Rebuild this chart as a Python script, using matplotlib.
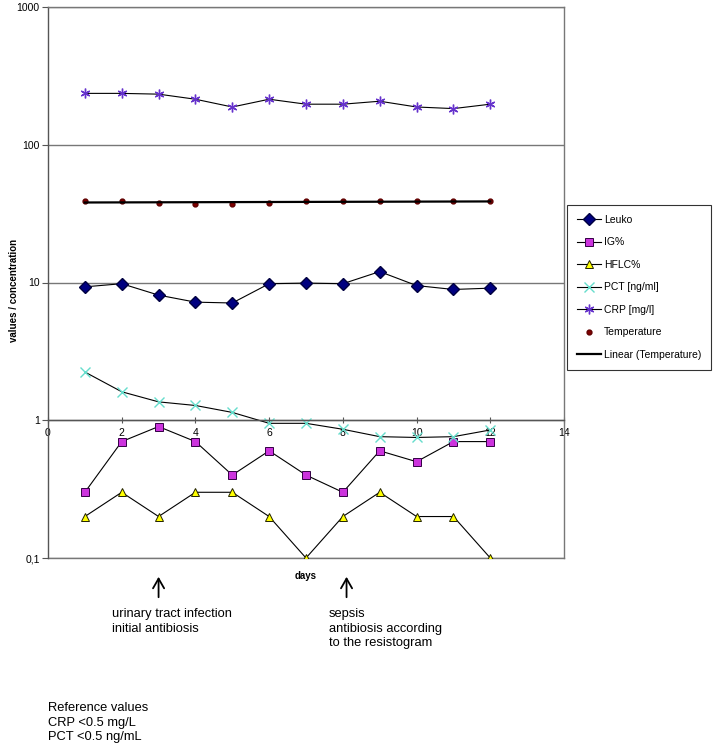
"""
Inflammation markers over the course of hospital stay (log scale).
"""

import numpy as np
import matplotlib
matplotlib.use("Agg")
import matplotlib.pyplot as plt
from matplotlib.patches import FancyArrowPatch
from matplotlib.ticker import FixedLocator, FixedFormatter, NullLocator

plt.rcParams["font.family"] = ["Liberation Sans", "DejaVu Sans"]

# ================================================================
# DATA
# ================================================================

days = [1, 2, 3, 4, 5, 6, 7, 8, 9, 10, 11, 12]
leuko = [9.3, 9.8, 8.1, 7.2, 7.1, 9.8, 9.9, 9.8, 12.0, 9.5, 8.9, 9.1]
ig_pct = [0.3, 0.7, 0.9, 0.7, 0.4, 0.6, 0.4, 0.3, 0.6, 0.5, 0.7, 0.7]
hflc_pct = [0.2, 0.3, 0.2, 0.3, 0.3, 0.2, 0.1, 0.2, 0.3, 0.2, 0.2, 0.1]
pct = [2.24, 1.61, 1.36, 1.28, 1.14, 0.95, 0.95, 0.86, 0.76, 0.75, 0.76, 0.85]
crp = [236, 236, 233, 214, 188, 214, 197, 197, 207, 188, 183, 197]
temperature = [39.2, 38.8, 37.8, 37.2, 37.2, 37.8, 38.8, 39.2, 38.8, 38.8, 38.8, 38.8]

y_ticks = [0.1, 1, 10, 100, 1000]
y_tick_labels = ["0,1", "1", "10", "100", "1000"]
x_ticks = [0, 2, 4, 6, 8, 10, 12, 14]

events = [
    (3, "urinary tract infection\ninitial antibiosis"),
    (8.1, "sepsis\nantibiosis according\nto the resistogram"),
]
reference_note = "Reference values\nCRP <0.5 mg/L\nPCT <0.5 ng/mL"

# ================================================================
# PLOT
# ================================================================

W, H = 717, 750
fig = plt.figure(figsize=(W / 100, H / 100), dpi=100)
ax = fig.add_axes([48 / W, 1 - 558 / H, (564 - 48) / W, (558 - 7) / H])

ax.set_yscale("log")
ax.set_ylim(0.1, 1000)
ax.set_xlim(0, 14)

line_kw = dict(color="black", linewidth=0.8)
ax.plot(days, leuko, marker="D", markersize=6, markerfacecolor="#000080",
        markeredgecolor="#000040", label="Leuko", **line_kw)
ax.plot(days, ig_pct, marker="s", markersize=5.5, markerfacecolor="#CC33DD",
        markeredgecolor="#330044", markeredgewidth=0.7, label="IG%", **line_kw)
ax.plot(days, hflc_pct, marker="^", markersize=6, markerfacecolor="#FFFF00",
        markeredgecolor="#222200", markeredgewidth=0.7, label="HFLC%", **line_kw)
ax.plot(days, pct, marker="x", markersize=7, markeredgecolor="#66DDCC",
        markeredgewidth=1.0, label="PCT [ng/ml]", **line_kw)
ax.plot(days, crp, marker=(6, 2, 0), markersize=7, markeredgecolor="#6633CC",
        markeredgewidth=1.0, label="CRP [mg/l]", **line_kw)
ax.plot(days, temperature, linestyle="none", marker="o", markersize=3.5,
        markerfacecolor="#800000", markeredgecolor="#600000",
        label="Temperature")

# linear trendline of the temperature series
coef = np.polyfit(days, temperature, 1)
ax.plot(days, np.polyval(coef, days), color="black", linewidth=1.6,
        label="Linear (Temperature)")

# axes styling: box, gridlines at decades, x axis crossing at y=1
ax.yaxis.set_major_locator(FixedLocator(y_ticks))
ax.yaxis.set_major_formatter(FixedFormatter(y_tick_labels))
ax.yaxis.set_minor_locator(NullLocator())
ax.set_xticks(x_ticks)
ax.set_xticklabels([str(t) for t in x_ticks])
ax.yaxis.grid(True, color="#777777", linewidth=1.0)
ax.axhline(0.1, color="#777777", linewidth=1.0, clip_on=False, zorder=0.5)
ax.set_axisbelow(True)

ax.spines["bottom"].set_position(("data", 1))
ax.spines["bottom"].set_color("#555555")
ax.spines["left"].set_color("#555555")
ax.spines["top"].set_color("#777777")
ax.spines["right"].set_color("#777777")
for s in ax.spines.values():
    s.set_linewidth(1.0)

ax.tick_params(axis="y", direction="out", length=4, width=0.8,
               colors="#555555", labelcolor="black", labelsize=7.5, pad=2)
ax.tick_params(axis="x", direction="inout", length=5, width=0.8,
               colors="#555555", labelcolor="black", labelsize=7.5, pad=3)

fig.text(14 / W, 1 - 290 / H, "values / concentration", rotation=90,
         ha="center", va="center", fontsize=7, fontweight="bold")
fig.text(306 / W, 1 - 576 / H, "days", ha="center", va="center",
         fontsize=7, fontweight="bold")

# event arrows and notes
for x_event, note in events:
    x_px = 48 + x_event * (564 - 48) / 14
    fig.patches.append(FancyArrowPatch(
        (x_px / W, 1 - 600 / H), (x_px / W, 1 - 574 / H),
        transform=fig.transFigure, arrowstyle="->,head_length=7,head_width=4",
        color="black", linewidth=1.3, mutation_scale=1))
    x_text = x_px - 47 if x_event < 5 else x_px - 18
    fig.text(x_text / W, 1 - 608 / H, note, ha="left", va="top",
             fontsize=9.3, linespacing=1.3)

fig.text(48 / W, 1 - 702 / H, reference_note, ha="left", va="top",
         fontsize=9.3, linespacing=1.3)

leg = fig.legend(loc="upper left", bbox_to_anchor=(567 / W, 1 - 205 / H),
                 frameon=True, fancybox=False, fontsize=7.5,
                 handlelength=2.3, labelspacing=1.2, borderpad=0.95,
                 handletextpad=0.3, borderaxespad=0)
leg.get_frame().set_edgecolor("black")
leg.get_frame().set_linewidth(0.8)

fig.savefig("out.png", dpi=100)
